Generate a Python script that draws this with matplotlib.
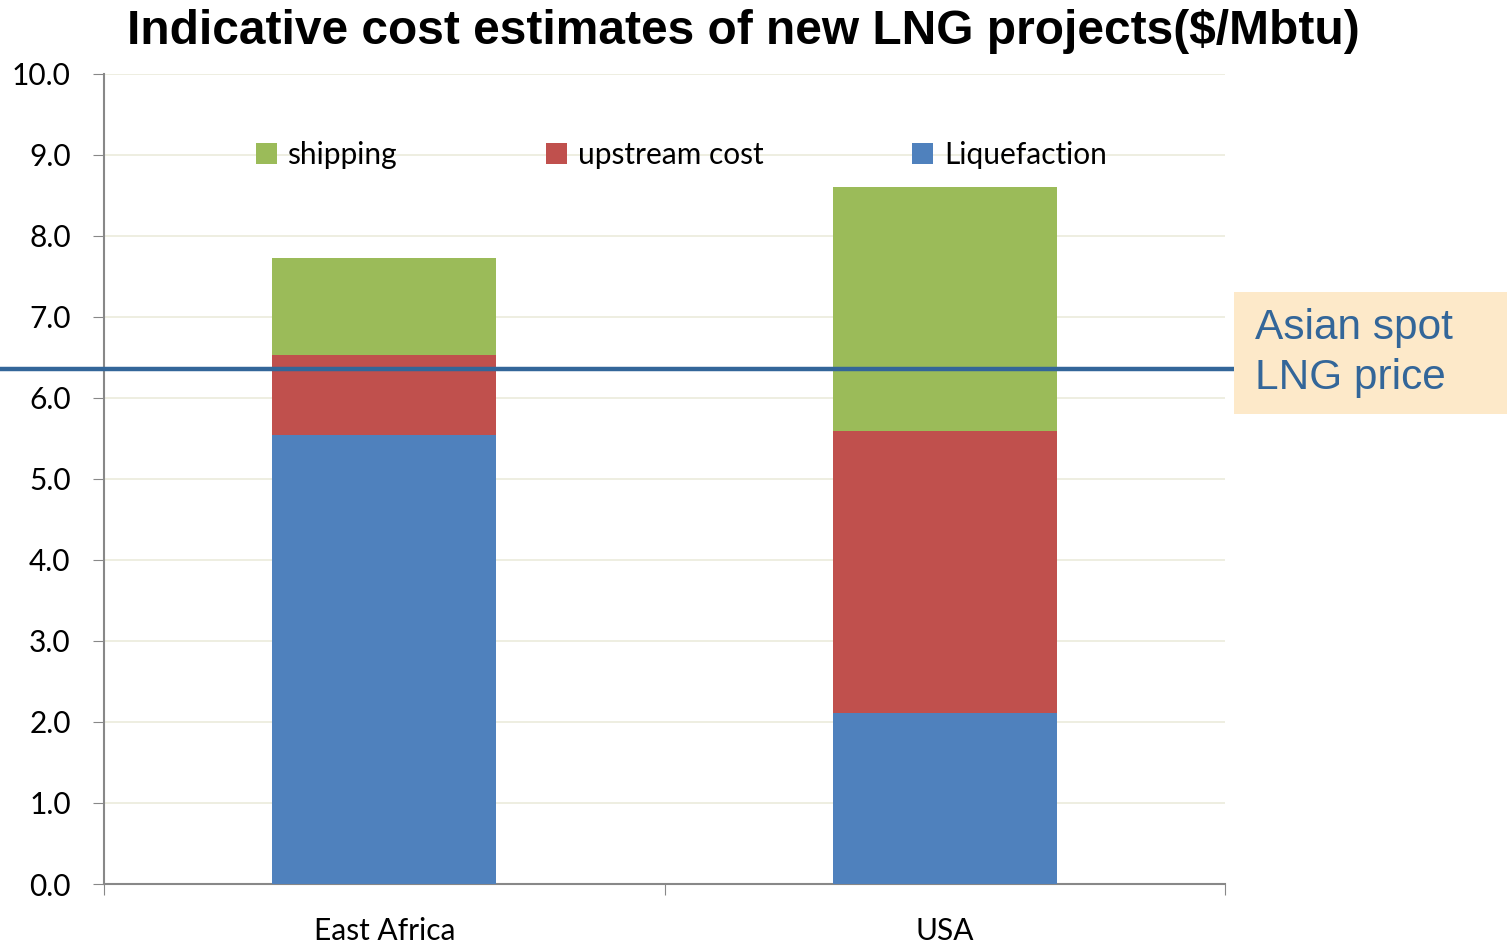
import matplotlib.pyplot as plt
from matplotlib.patches import Rectangle
import numpy as np

regions = ["East Africa", "USA"]
liquefaction = [5.54, 2.11]
upstream = [0.99, 3.48]
shipping = [1.20, 3.01]
spot_price = 6.36

col_liq = "#4F81BD"
col_up = "#C0504D"
col_ship = "#9BBB59"
col_line = "#336699"

fig = plt.figure(figsize=(15.09, 9.44), dpi=100)
ax = fig.add_axes([104/1509, 1-884/944, 1121/1509, 810/944])

x = np.arange(len(regions)) + 0.5
w = 0.4
liq = np.array(liquefaction)
up = np.array(upstream)
sh = np.array(shipping)
b1 = ax.bar(x, liq, w, color=col_liq, label="Liquefaction", zorder=3)
b2 = ax.bar(x, up, w, bottom=liq, color=col_up, label="upstream cost", zorder=3)
b3 = ax.bar(x, sh, w, bottom=liq+up, color=col_ship, label="shipping", zorder=3)

ax.set_xlim(0, 2)
ax.set_ylim(0, 10)
ax.set_yticks(np.arange(0, 10.1, 1.0))
ax.set_yticklabels([f"{v:.1f}" for v in np.arange(0, 10.1, 1.0)])
ax.set_xticks([0, 1, 2])
ax.set_xticklabels([])
ax.set_xticks(x, minor=True)
ax.set_xticklabels(regions, minor=True)
ax.tick_params(axis="x", which="minor", length=0, pad=24)
ax.tick_params(axis="x", which="major", length=8, color="#888888", direction="out")
ax.tick_params(axis="y", length=8, color="#888888", direction="out", pad=16)
for lab in ax.get_yticklabels() + ax.get_xticklabels(minor=True):
    lab.set_fontfamily("Lato")
    lab.set_fontsize(21.5)

ax.grid(axis="y", color="#EBEBDC", lw=1.2, zorder=0)
for s in ["top", "right"]:
    ax.spines[s].set_visible(False)
ax.spines["left"].set_color("#888888")
ax.spines["bottom"].set_color("#888888")
ax.spines["left"].set_linewidth(1.5)
ax.spines["bottom"].set_linewidth(1.5)

ax.legend(handles=[b3, b2, b1], loc="center", bbox_to_anchor=(0.515, (884-155)/810),
          ncol=3, frameon=False, columnspacing=5.0, handlelength=0.7, handleheight=0.7,
          handletextpad=0.35, prop={"family": "Lato", "size": 21.5})

ax.axhline(spot_price, xmin=-104/1121, xmax=(1234-104)/1121, color=col_line, lw=3.2,
           clip_on=False, zorder=4)

fig.patches.append(Rectangle((1234/1509, 1-414/944), 273/1509, 122/944,
                             transform=fig.transFigure, facecolor="#FDE9C9",
                             edgecolor="none", zorder=1))
fig.text(1255/1509, 1-353/944, "Asian spot\nLNG price", color=col_line, fontsize=30.5,
         family="Liberation Sans", ha="left", va="center", linespacing=1.3, zorder=2)

fig.text(743/1509, 1-31/944, "Indicative cost estimates of new LNG projects($/Mbtu)",
         fontsize=34.5, fontweight="bold", family="Liberation Sans", ha="center", va="center")

fig.savefig("out.png", dpi=100)
